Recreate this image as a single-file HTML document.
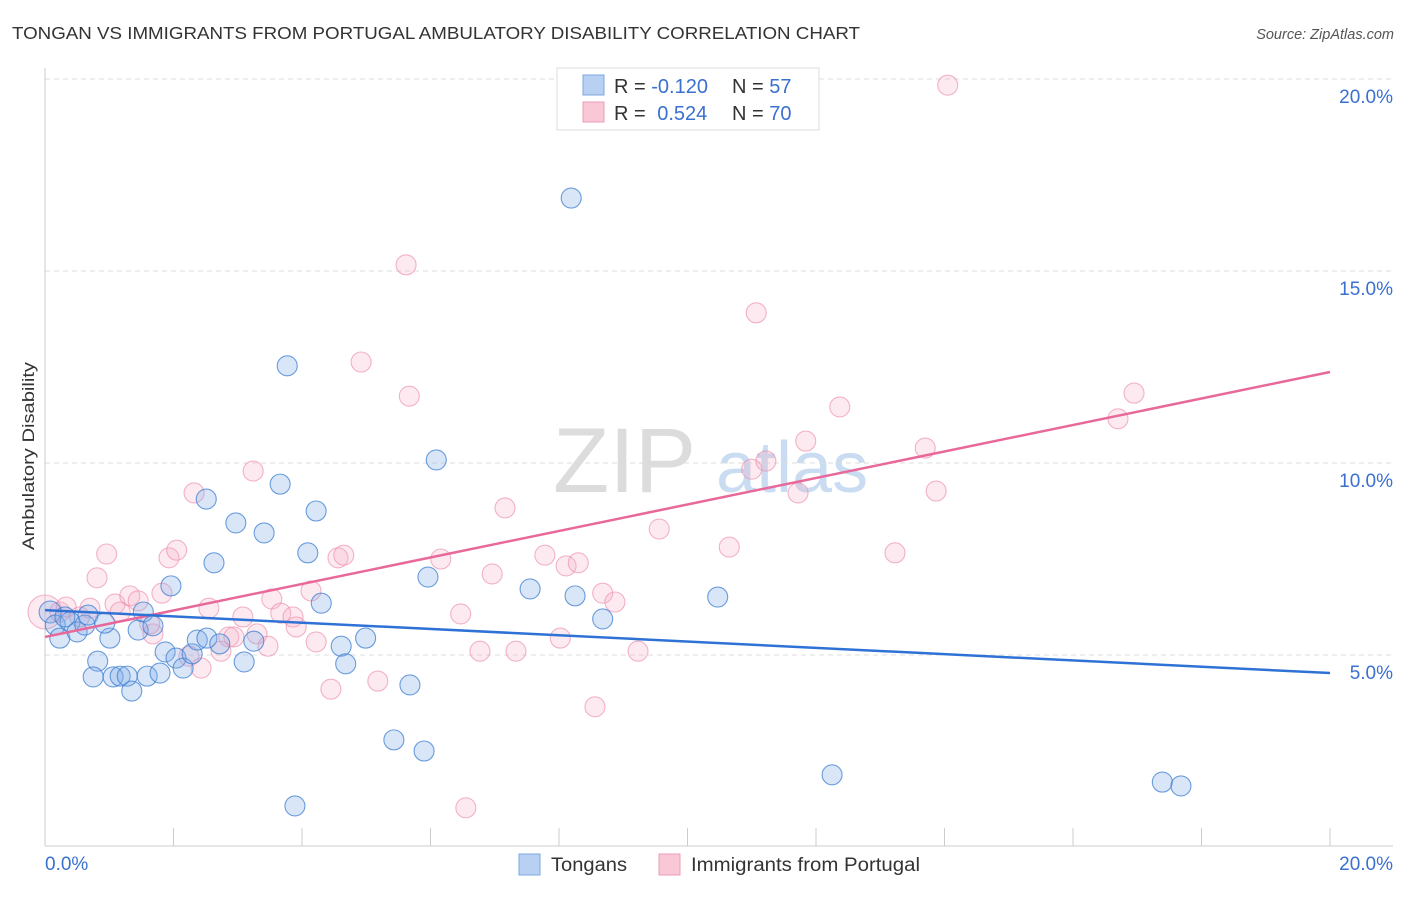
<!DOCTYPE html>
<html><head><meta charset="utf-8">
<style>
body{margin:0;background:#fff;font-family:"Liberation Sans",sans-serif;}
svg text{font-family:"Liberation Sans",sans-serif;}
</style></head>
<body>
<svg id="chart" width="1406" height="892" viewBox="0 0 1406 892">
<text x="12" y="39" font-size="17.5" fill="#333" textLength="848" lengthAdjust="spacingAndGlyphs">TONGAN VS IMMIGRANTS FROM PORTUGAL AMBULATORY DISABILITY CORRELATION CHART</text>
<text x="1394" y="39" font-size="14.5" fill="#555" font-style="italic" text-anchor="end">Source: ZipAtlas.com</text>
<text transform="translate(34,456) rotate(-90)" font-size="17" fill="#333" text-anchor="middle" textLength="188" lengthAdjust="spacingAndGlyphs">Ambulatory Disability</text>
<g>
<text x="553" y="492" font-size="92" fill="#dcdcdc" font-family="Liberation Serif,serif">ZIP</text>
<text x="716" y="492" font-size="72" fill="#c9dcf2">atlas</text>
</g>
<g id="grid"></g>
<g id="axes"></g>
<g id="marks"></g>
<g>
<rect x="557" y="68" width="262" height="62" fill="#fff" stroke="#ddd"/>
<rect x="583" y="75" width="21" height="20" fill="#b8d1f3" stroke="#7ea7e0"/>
<rect x="583" y="102" width="21" height="20" fill="#f9c8d6" stroke="#ee9bb6"/>
<text x="614" y="93" font-size="20" fill="#333">R = <tspan fill="#3a70d0">-0.120</tspan></text>
<text x="732" y="93" font-size="20" fill="#333">N = <tspan fill="#3a70d0">57</tspan></text>
<text x="614" y="120" font-size="20" fill="#333">R = <tspan fill="#3a70d0" dx="6">0.524</tspan></text>
<text x="732" y="120" font-size="20" fill="#333">N = <tspan fill="#3a70d0">70</tspan></text>
</g>
<g>
<rect x="519" y="854" width="21" height="21" fill="#b8d1f3" stroke="#7ea7e0"/>
<text x="551" y="871" font-size="19" fill="#333" textLength="76" lengthAdjust="spacingAndGlyphs">Tongans</text>
<rect x="659" y="854" width="21" height="21" fill="#f9c8d6" stroke="#ee9bb6"/>
<text x="691" y="871" font-size="19" fill="#333" textLength="229" lengthAdjust="spacingAndGlyphs">Immigrants from Portugal</text>
</g>
</svg>
<script>
const blueX=[0.08,0.16,0.23,0.39,0.50,0.62,0.67,0.82,0.75,1.01,0.93,1.06,1.17,1.28,1.35,1.45,1.53,1.59,1.68,1.79,1.87,1.96,2.04,2.15,2.29,2.37,2.52,2.51,2.63,2.72,2.97,3.10,3.25,3.41,3.66,3.77,3.89,4.09,4.22,4.30,4.61,4.68,4.99,5.43,5.68,5.90,5.96,6.09,7.55,8.19,8.25,8.68,10.47,12.25,17.39,17.68,0.31];
const blueY=[6.12,5.78,5.44,5.86,5.60,5.78,6.04,4.84,4.43,5.44,5.83,4.43,4.45,4.45,4.06,5.65,6.12,4.45,5.76,4.53,5.08,6.80,4.92,4.66,5.03,5.39,5.44,9.06,7.40,5.29,8.44,4.82,5.36,8.18,9.45,12.53,1.07,7.66,8.75,6.35,5.23,4.77,5.44,2.79,4.22,2.50,7.03,10.08,6.72,16.90,6.54,5.94,6.51,1.88,1.69,1.59,5.99];
const pinkX=[0.00,0.23,0.33,0.54,0.70,0.81,0.96,1.09,1.17,1.32,1.45,1.68,1.63,1.82,1.93,2.05,2.24,2.32,2.43,2.55,2.74,2.86,2.94,3.08,3.24,3.30,3.47,3.53,3.67,3.86,3.91,4.14,4.22,4.45,4.56,4.65,4.92,5.18,5.62,5.67,6.16,6.47,6.55,6.77,6.96,7.16,7.33,7.78,8.02,8.11,8.30,8.56,8.68,8.87,9.23,9.56,10.65,11.00,11.07,11.22,11.72,11.84,12.37,13.23,13.70,13.87,14.05,16.70,16.95];
const pinkY=[6.12,6.12,6.25,5.99,6.22,7.01,7.63,6.33,6.12,6.54,6.41,5.55,5.81,6.61,7.53,7.73,4.97,9.22,4.66,6.22,5.10,5.47,5.47,5.99,9.79,5.55,5.23,6.46,6.09,5.99,5.73,6.67,5.34,4.11,7.53,7.60,12.63,4.32,15.16,11.74,7.50,6.07,1.02,5.10,7.11,8.83,5.10,7.60,5.44,7.32,7.40,3.65,6.61,6.38,5.10,8.28,7.81,9.84,13.91,10.05,9.22,10.57,11.46,7.66,10.39,9.27,19.84,11.15,11.82];
const blueTrend=[6.17,4.53];
const pinkTrend=[5.47,12.37];
const yTicks=[5,10,15,20];
const yTickLabels=["5.0%","10.0%","15.0%","20.0%"];
const xTickLabels=["0.0%","20.0%"];

const NS="http://www.w3.org/2000/svg";
const X0=45,X1=1330,Y0=847,PY=38.4;
const sx=v=>X0+(X1-X0)*v/20;
const sy=v=>Y0-v*PY;
function mk(tag,attrs,parent){const e=document.createElementNS(NS,tag);for(const k in attrs)e.setAttribute(k,attrs[k]);parent.appendChild(e);return e;}
const grid=document.getElementById('grid'),axes=document.getElementById('axes'),marks=document.getElementById('marks');
yTicks.forEach((t,i)=>{
  const l=mk('line',{x1:45,x2:1393,y1:sy(t),y2:sy(t),stroke:'#ddd','stroke-dasharray':'5,4'},grid);
  
  
  const tx=mk('text',{x:1393,y:sy(t)+24,'font-size':19,fill:'#3a70d0','text-anchor':'end'},axes);
  tx.textContent=yTickLabels[i];
  
  
});
let a=mk('line',{x1:45,x2:45,y1:68,y2:846,stroke:'#ccc'},axes);


a=mk('line',{x1:45,x2:1393,y1:846,y2:846,stroke:'#ccc'},axes);


for(let i=0;i<=10;i++){
  const t=mk('line',{x1:sx(i*2),x2:sx(i*2),y1:828,y2:846,stroke:'#ccc'},axes);
  
  
}
[[0,'start',45],[20,'end',1393]].forEach((d,i)=>{
  const tx=mk('text',{x:d[2],y:870,'font-size':19,fill:'#3a70d0','text-anchor':d[1]},axes);
  tx.textContent=xTickLabels[i];
  
  
});
pinkX.forEach((x,i)=>{
  const c=mk('circle',{cx:sx(x),cy:sy(pinkY[i]),r:i===0?17:10,fill:'rgba(244,170,195,0.25)',stroke:'rgba(236,140,172,0.65)','stroke-width':1.1},marks);
  
  
});
blueX.forEach((x,i)=>{
  const c=mk('circle',{cx:sx(x),cy:sy(blueY[i]),r:i===0?11:10,fill:'rgba(130,172,232,0.3)',stroke:'rgba(60,125,210,0.75)','stroke-width':1.1},marks);
  
  
});
let tl=mk('line',{x1:sx(0),x2:sx(20),y1:sy(pinkTrend[0]),y2:sy(pinkTrend[1]),stroke:'#e8689a','stroke-width':2.5},marks);


tl=mk('line',{x1:sx(0),x2:sx(20),y1:sy(blueTrend[0]),y2:sy(blueTrend[1]),stroke:'#2f72d6','stroke-width':2.5},marks);


</script>
</body></html>
